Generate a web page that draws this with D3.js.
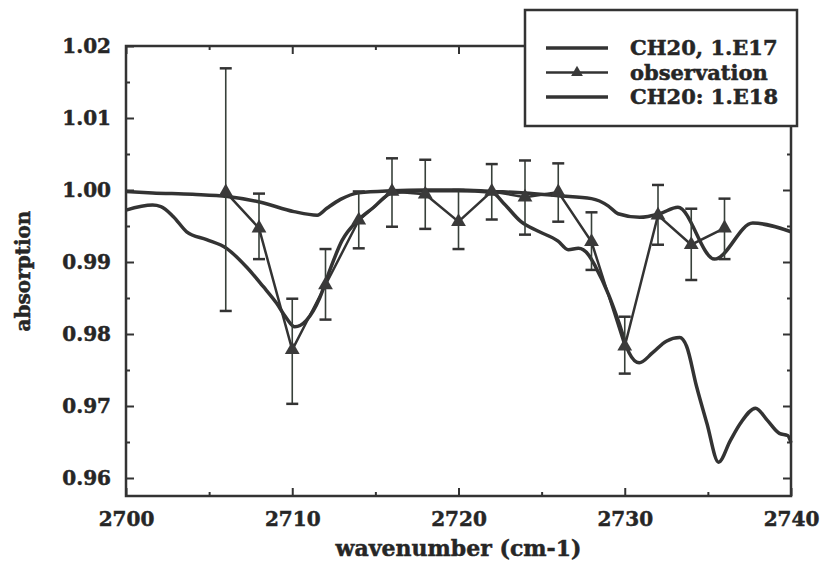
<!DOCTYPE html>
<html>
<head>
<meta charset="utf-8">
<script src="https://cdn.jsdelivr.net/npm/d3@7"></script>
<style>
  body { margin: 0; background: #fff; }
  text { font-family: "DejaVu Serif", serif; font-weight: bold; fill: #262626; stroke: #262626; stroke-width: 0.5px; }
</style>
</head>
<body>
<svg id="chart" width="822" height="565"></svg>
<script>
// observation points with error bars
const obsX = [2706, 2708, 2710, 2712, 2714, 2716, 2718, 2720, 2722, 2724, 2726, 2728, 2730, 2732, 2734, 2736];
const obsY = [0.9997, 0.9947, 0.9778, 0.9868, 0.9958, 0.9998, 0.9994, 0.9956, 0.9998, 0.9990, 0.9997, 0.9928, 0.9783, 0.9965, 0.9924, 0.9947];
const obsHi = [1.0169, 0.9995, 0.9849, 0.9918, 0.9998, 1.0044, 1.0042, 1.0000, 1.0036, 1.0041, 1.0037, 0.9969, 0.9824, 1.0007, 0.9974, 0.9988];
const obsLo = [0.9832, 0.9904, 0.9703, 0.9820, 0.9919, 0.9949, 0.9946, 0.9918, 0.9959, 0.9938, 0.9956, 0.9889, 0.9745, 0.9924, 0.9875, 0.9904];

// model CH20, 1.E17
const m17X = [2700, 2701.6, 2704, 2706.1, 2708.1, 2710.1, 2711.5, 2712.1, 2712.9, 2714, 2716, 2718, 2720, 2722, 2724, 2726, 2728, 2729, 2729.6, 2730.9, 2732.1, 2733.2, 2735.4, 2737.7, 2740];
const m17Y = [0.9998, 0.9996, 0.9994, 0.9991, 0.9983, 0.9970, 0.9965, 0.9975, 0.9987, 0.9996, 0.9999, 1.0000, 1.0000, 0.9998, 0.9996, 0.9992, 0.9988, 0.9978, 0.9967, 0.9962, 0.9967, 0.9976, 0.9904, 0.9954, 0.9942];

// model CH20: 1.E18
const m18X = [2700, 2701.6, 2702.1, 2702.85, 2703.65, 2704.85, 2706.05, 2707.25, 2708.25, 2709.05, 2709.65, 2710.15, 2710.85, 2711.65, 2712.2, 2713, 2713.95, 2714.85, 2716, 2718, 2720, 2722, 2722.74, 2723.76, 2724.77, 2725.99, 2726.6, 2727.21, 2727.82, 2728.23, 2729.04, 2729.65, 2730.26, 2730.87, 2731.68, 2732.5, 2733.31, 2733.72, 2734.32, 2734.94, 2735.64, 2736.35, 2736.96, 2737.87, 2738.58, 2739.3, 2739.8, 2740];
const m18Y = [0.9972, 0.9979, 0.9977, 0.9963, 0.9942, 0.9931, 0.9919, 0.9893, 0.9866, 0.9843, 0.9822, 0.9810, 0.9819, 0.9850, 0.9885, 0.9930, 0.9958, 0.9975, 0.9996, 0.9999, 0.9999, 0.9997, 0.9981, 0.9956, 0.9943, 0.9929, 0.9917, 0.9919, 0.9910, 0.9894, 0.9854, 0.9816, 0.9774, 0.9760, 0.9774, 0.9790, 0.9795, 0.9783, 0.9727, 0.9676, 0.9622, 0.9652, 0.9676, 0.9697, 0.9680, 0.9662, 0.9659, 0.9649];

const xTicks = [2700, 2710, 2720, 2730, 2740];
const xMinor = [2705, 2715, 2725, 2735];
const yTicks = [0.96, 0.97, 0.98, 0.99, 1.00, 1.01, 1.02];
const yMinor = [0.965, 0.975, 0.985, 0.995, 1.005, 1.015];
const legendLabels = ["CH20, 1.E17", "observation", "CH20: 1.E18"];

const ink = "#333";
const pLeft = 126, pRight = 791, pTop = 46, pBottom = 496;

const svg = d3.select("#chart");
const x = d3.scaleLinear().domain([2700, 2740]).range([pLeft, pRight]);
const y = d3.scaleLinear().domain([0.9575, 1.02]).range([pBottom, pTop]);

const line = d3.line().x(d => x(d[0])).y(d => y(d[1])).curve(d3.curveMonotoneX);
const lineLin = d3.line().x(d => x(d[0])).y(d => y(d[1]));

const plot = svg.append("g");

// model curves
plot.append("path")
  .datum(d3.zip(m18X, m18Y))
  .attr("d", line)
  .attr("fill", "none").attr("stroke", ink).attr("stroke-width", 3.5).attr("stroke-linejoin", "round");
plot.append("path")
  .datum(d3.zip(m17X, m17Y))
  .attr("d", line)
  .attr("fill", "none").attr("stroke", ink).attr("stroke-width", 3.5).attr("stroke-linejoin", "round");

// error bars
const obs = obsX.map((v, i) => ({ x: v, y: obsY[i], lo: obsLo[i], hi: obsHi[i] }));
const eb = plot.selectAll("g.err").data(obs).join("g").classed("err", true);
eb.append("line")
  .attr("x1", d => x(d.x)).attr("x2", d => x(d.x))
  .attr("y1", d => y(d.lo)).attr("y2", d => y(d.hi))
  .attr("stroke", "#38403a").attr("stroke-width", 1.6);
eb.selectAll("line.cap")
  .data(d => [[d.x, d.lo], [d.x, d.hi]])
  .join("line").classed("cap", true)
  .attr("x1", d => x(d[0]) - 6).attr("x2", d => x(d[0]) + 6)
  .attr("y1", d => y(d[1])).attr("y2", d => y(d[1]))
  .attr("stroke", ink).attr("stroke-width", 2.5);

// observation line + markers
plot.append("path")
  .datum(d3.zip(obsX, obsY))
  .attr("d", lineLin)
  .attr("fill", "none").attr("stroke", ink).attr("stroke-width", 2.5);
plot.selectAll("path.mark")
  .data(obs)
  .join("path").classed("mark", true)
  .attr("d", d3.symbol(d3.symbolTriangle, 95))
  .attr("transform", d => `translate(${x(d.x)},${y(d.y)})`)
  .attr("fill", "#3a3a3a");

// axes: inward ticks on all four sides
const ax = svg.append("g");
const tickStyle = g => {
  g.select(".domain").remove();
  g.selectAll(".tick line").attr("stroke", ink).attr("stroke-width", 2);
  g.selectAll(".tick text").style("font-size", "20px").attr("fill", "#262626");
};
ax.append("g").attr("transform", `translate(0,${pBottom})`)
  .call(d3.axisBottom(x).tickValues(xTicks).tickSize(-8).tickPadding(16).tickFormat(d3.format("d")))
  .call(tickStyle);
ax.append("g").attr("transform", `translate(0,${pBottom})`)
  .call(d3.axisBottom(x).tickValues(xMinor).tickSize(-4).tickFormat(""))
  .call(tickStyle);
ax.append("g").attr("transform", `translate(0,${pTop})`)
  .call(d3.axisTop(x).tickValues(xTicks).tickSize(-8).tickFormat(""))
  .call(tickStyle);
ax.append("g").attr("transform", `translate(0,${pTop})`)
  .call(d3.axisTop(x).tickValues(xMinor).tickSize(-4).tickFormat(""))
  .call(tickStyle);
ax.append("g").attr("transform", `translate(${pLeft},0)`)
  .call(d3.axisLeft(y).tickValues(yTicks).tickSize(-8).tickPadding(15).tickFormat(d3.format(".2f")))
  .call(tickStyle);
ax.append("g").attr("transform", `translate(${pLeft},0)`)
  .call(d3.axisLeft(y).tickValues(yMinor).tickSize(-4).tickFormat(""))
  .call(tickStyle);
ax.append("g").attr("transform", `translate(${pRight},0)`)
  .call(d3.axisRight(y).tickValues(yTicks).tickSize(-8).tickFormat(""))
  .call(tickStyle);
ax.append("g").attr("transform", `translate(${pRight},0)`)
  .call(d3.axisRight(y).tickValues(yMinor).tickSize(-4).tickFormat(""))
  .call(tickStyle);

svg.append("rect")
  .attr("x", pLeft).attr("y", pTop)
  .attr("width", pRight - pLeft).attr("height", pBottom - pTop)
  .attr("fill", "none").attr("stroke", ink).attr("stroke-width", 2.5);

// axis titles
svg.append("text")
  .attr("x", (pLeft + pRight) / 2).attr("y", 556)
  .attr("text-anchor", "middle").style("font-size", "22px")
  .text("wavenumber (cm-1)");
svg.append("text")
  .attr("transform", `translate(30,${(pTop + pBottom) / 2}) rotate(-90)`)
  .attr("text-anchor", "middle").style("font-size", "20px")
  .text("absorption");

// legend
const lg = svg.append("g");
lg.append("rect")
  .attr("x", 525).attr("y", 10).attr("width", 272).attr("height", 116)
  .attr("fill", "#fff").attr("stroke", ink).attr("stroke-width", 2.5);
const rows = lg.selectAll("g.row").data(legendLabels).join("g").classed("row", true)
  .attr("transform", (d, i) => `translate(0,${48 + i * 24.5})`);
rows.append("line")
  .attr("x1", 546).attr("x2", 608)
  .attr("stroke", ink).attr("stroke-width", (d, i) => (i === 1 ? 2.5 : 3.5));
rows.filter((d, i) => i === 1).append("path")
  .attr("d", d3.symbol(d3.symbolTriangle, 60))
  .attr("transform", "translate(577,0)")
  .attr("fill", "#3a3a3a");
rows.append("text")
  .attr("x", 630).attr("y", 7)
  .style("font-size", "21px")
  .text(d => d);
</script>
</body>
</html>
